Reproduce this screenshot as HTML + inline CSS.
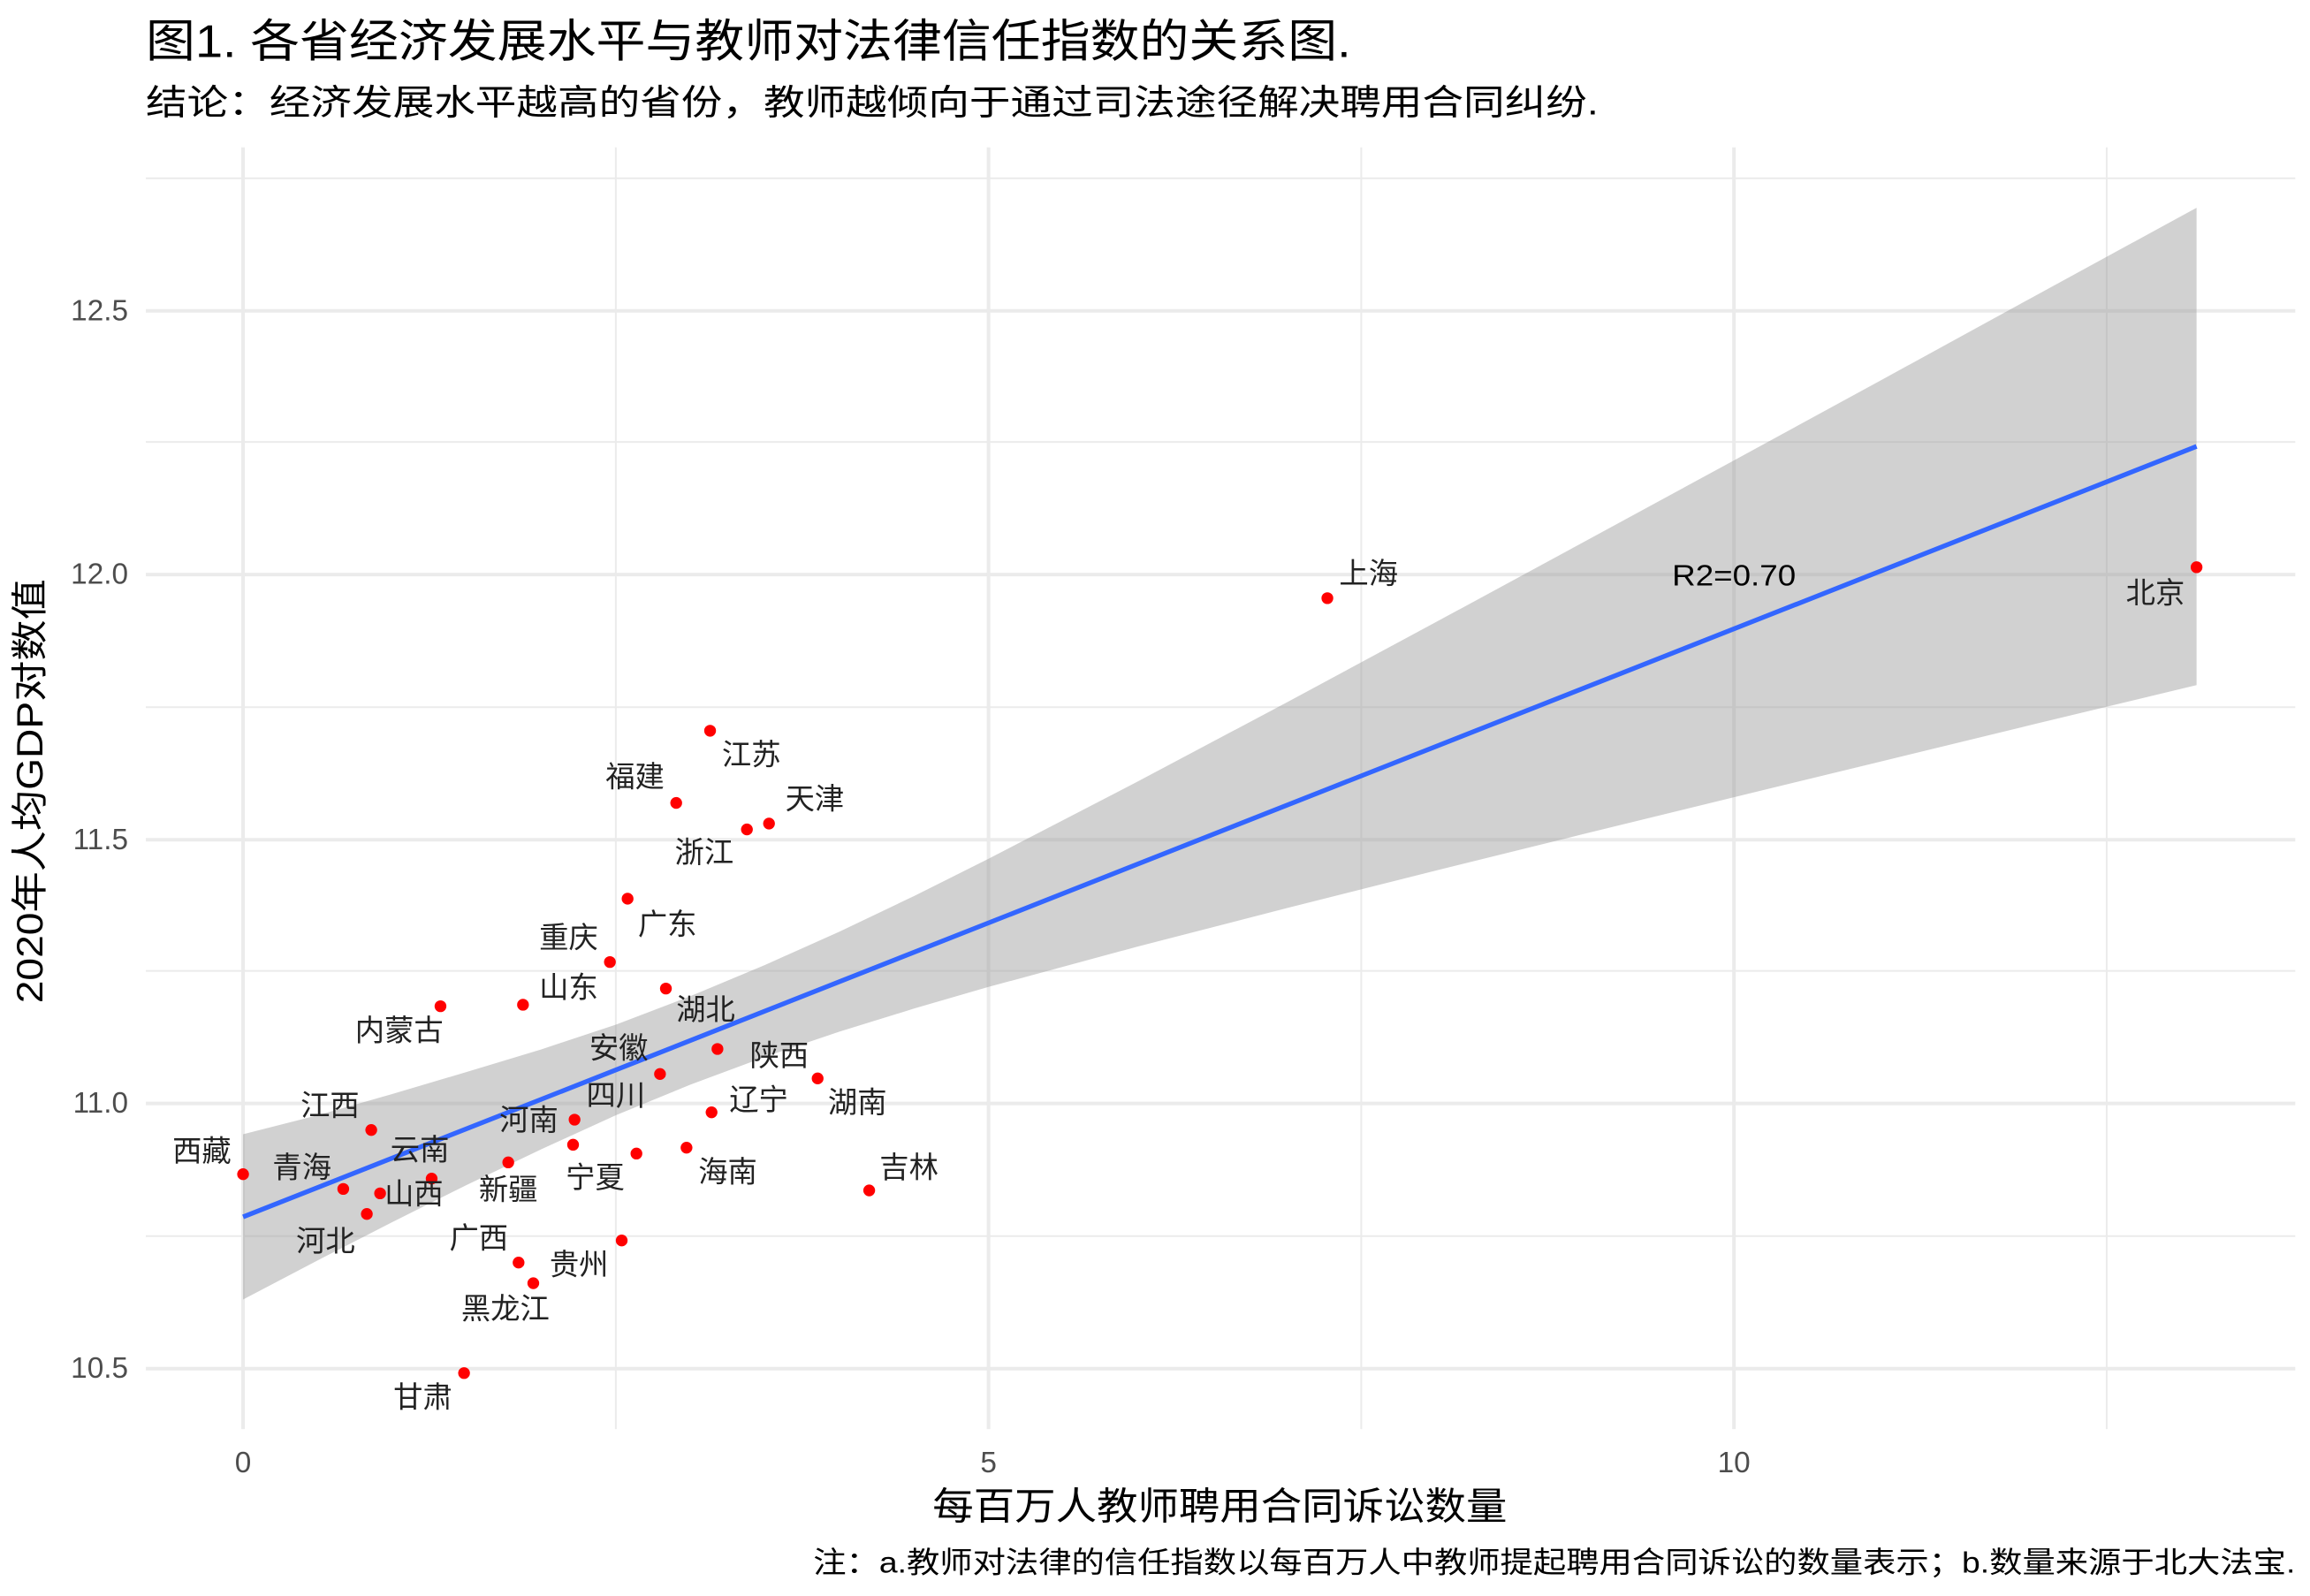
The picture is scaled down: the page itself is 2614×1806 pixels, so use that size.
<!DOCTYPE html>
<html><head><meta charset="utf-8"><style>html,body{margin:0;padding:0;background:#fff}svg{display:block}</style></head>
<body>
<svg width="2614" height="1806" viewBox="0 0 1568 1083.3" xmlns="http://www.w3.org/2000/svg" font-family="'Liberation Sans','Noto Sans CJK SC',sans-serif">
<rect width="1568" height="1084" fill="#fff"/>
<g stroke="#ebebeb" stroke-width="1.2">
<line x1="99" x2="1558" y1="121" y2="121"/><line x1="99" x2="1558" y1="300" y2="300"/><line x1="99" x2="1558" y1="480" y2="480"/><line x1="99" x2="1558" y1="659" y2="659"/><line x1="99" x2="1558" y1="839" y2="839"/>
<line x1="418" x2="418" y1="100" y2="970"/><line x1="924" x2="924" y1="100" y2="970"/><line x1="1430" x2="1430" y1="100" y2="970"/>
</g>
<g stroke="#ebebeb" stroke-width="2.4">
<line x1="99" x2="1558" y1="211" y2="211"/><line x1="99" x2="1558" y1="390" y2="390"/><line x1="99" x2="1558" y1="570" y2="570"/><line x1="99" x2="1558" y1="749" y2="749"/><line x1="99" x2="1558" y1="929" y2="929"/>
<line x1="165" x2="165" y1="100" y2="970"/><line x1="671" x2="671" y1="100" y2="970"/><line x1="1177" x2="1177" y1="100" y2="970"/>
</g>
<path d="M165,769.9 L215.6,757 L266.2,742.6 L316.8,727.6 L367.4,712.3 L418,695.5 L468.6,676.2 L519.2,655 L569.8,632.4 L620.4,608.2 L671,582.9 L772.2,530.5 L873.4,476.8 L974.6,422.3 L1075.8,367.5 L1177,312.5 L1278.2,257.3 L1379.4,201.9 L1491,141 L1491,465 L1379.4,491.9 L1278.2,516.5 L1177,541.1 L1075.8,565.9 L974.6,590.9 L873.4,616.4 L772.2,642.5 L671,669.9 L620.4,684.6 L569.8,700.2 L519.2,717.4 L468.6,736.2 L418,757 L367.4,780.1 L316.8,804.3 L266.2,829.6 L215.6,855.5 L165,882.1 Z" fill="#999" fill-opacity="0.45"/>
<line x1="165" y1="826" x2="1491" y2="303" stroke="#3366ff" stroke-width="3.2"/>
<g fill="#f00">
<circle cx="165" cy="797" r="4"/><circle cx="233" cy="807" r="4"/><circle cx="258" cy="810" r="4"/><circle cx="249" cy="824" r="4"/><circle cx="252" cy="767" r="4"/><circle cx="293" cy="800" r="4"/><circle cx="299" cy="683" r="4"/><circle cx="345" cy="789" r="4"/><circle cx="352" cy="857" r="4"/><circle cx="362" cy="871" r="4"/><circle cx="422" cy="842" r="4"/><circle cx="315" cy="932" r="4"/><circle cx="390" cy="760" r="4"/><circle cx="389" cy="777" r="4"/><circle cx="432" cy="783" r="4"/><circle cx="466" cy="779" r="4"/><circle cx="448" cy="729" r="4"/><circle cx="487" cy="712" r="4"/><circle cx="483" cy="755" r="4"/><circle cx="452" cy="671" r="4"/><circle cx="355" cy="682" r="4"/><circle cx="414" cy="653" r="4"/><circle cx="426" cy="610" r="4"/><circle cx="459" cy="545" r="4"/><circle cx="482" cy="496" r="4"/><circle cx="507" cy="563" r="4"/><circle cx="522" cy="559" r="4"/><circle cx="555" cy="732" r="4"/><circle cx="590" cy="808" r="4"/><circle cx="901" cy="406" r="4"/><circle cx="1491" cy="385" r="4"/>
</g>
<g font-size="20" fill="#222" text-anchor="middle" dominant-baseline="central">
<text x="137" y="782">西藏</text><text x="205" y="793">青海</text><text x="281" y="811">山西</text><text x="221" y="843">河北</text><text x="224" y="751">江西</text><text x="285" y="781">云南</text><text x="271" y="700">内蒙古</text><text x="345" y="808">新疆</text><text x="325" y="841">广西</text><text x="343" y="889">黑龙江</text><text x="393" y="859">贵州</text><text x="287" y="949">甘肃</text><text x="359" y="761">河南</text><text x="418" y="744">四川</text><text x="404" y="800">宁夏</text><text x="494" y="796">海南</text><text x="420" y="712">安徽</text><text x="529" y="717">陕西</text><text x="515" y="747">辽宁</text><text x="479" y="686">湖北</text><text x="386" y="671">山东</text><text x="386" y="637">重庆</text><text x="453" y="628">广东</text><text x="431" y="528">福建</text><text x="510" y="513">江苏</text><text x="478" y="579">浙江</text><text x="553" y="543">天津</text><text x="582" y="749">湖南</text><text x="617" y="793">吉林</text><text x="929" y="390">上海</text><text x="1463" y="403">北京</text>
<text x="1177" y="391" fill="#000" textLength="84" lengthAdjust="spacingAndGlyphs">R2=0.70</text>
</g>
<g font-size="20" fill="#4d4d4d" dominant-baseline="central">
<g text-anchor="end"><text x="87" y="211">12.5</text><text x="87" y="390">12.0</text><text x="87" y="570">11.5</text><text x="87" y="749">11.0</text><text x="87" y="929">10.5</text></g>
<g text-anchor="middle"><text x="165" y="993">0</text><text x="671" y="993">5</text><text x="1177" y="993">10</text></g>
</g>
<text x="828" y="1023" font-size="26" text-anchor="middle" dominant-baseline="central" fill="#000" textLength="390" lengthAdjust="spacingAndGlyphs">每百万人教师聘用合同诉讼数量</text>
<text transform="translate(20,537) rotate(-90)" font-size="25" text-anchor="middle" dominant-baseline="central" fill="#000" textLength="288" lengthAdjust="spacingAndGlyphs">2020年人均GDP对数值</text>
<text x="99" y="28" font-size="31" dominant-baseline="central" fill="#000" textLength="818" lengthAdjust="spacingAndGlyphs">图1. 各省经济发展水平与教师对法律信任指数的关系图.</text>
<text x="99" y="70" font-size="24" dominant-baseline="central" fill="#000" textLength="986" lengthAdjust="spacingAndGlyphs">结论：经济发展水平越高的省份，教师越倾向于通过司法途径解决聘用合同纠纷.</text>
<text x="1558" y="1061" font-size="20" text-anchor="end" dominant-baseline="central" fill="#000" textLength="1006" lengthAdjust="spacingAndGlyphs">注：a.教师对法律的信任指数以每百万人中教师提起聘用合同诉讼的数量表示；b.数量来源于北大法宝.</text>
</svg>
</body></html>
